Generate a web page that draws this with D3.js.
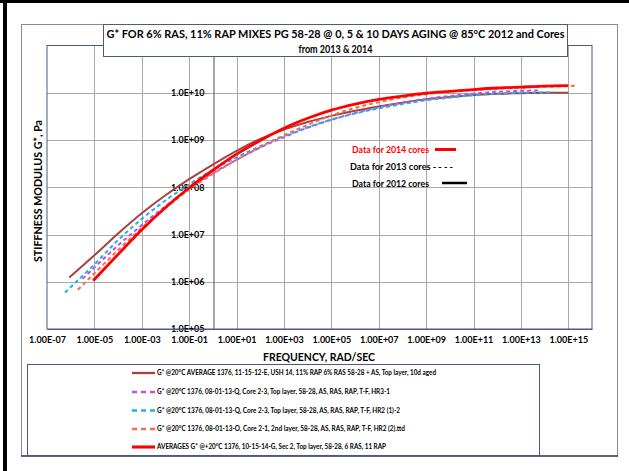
<!DOCTYPE html>
<html>
<head>
<meta charset="utf-8">
<script src="https://cdn.jsdelivr.net/npm/d3@7"></script>
<style>
  body { margin: 0; background: #fff; }
  svg { display: block; font-family: Lato, "Open Sans", "DejaVu Sans", sans-serif; }
</style>
</head>
<body>
<svg id="chart" width="629" height="471"></svg>
<script>
// ---- axis ticks ----
const xTickValues = [1e-7, 1e-5, 1e-3, 1e-1, 1e1, 1e3, 1e5, 1e7, 1e9, 1e11, 1e13, 1e15];
const xTickLabels = ["1.00E-07", "1.00E-05", "1.00E-03", "1.00E-01", "1.00E+01", "1.00E+03",
                     "1.00E+05", "1.00E+07", "1.00E+09", "1.00E+11", "1.00E+13", "1.00E+15"];
const yTickValues = [1e5, 1e6, 1e7, 1e8, 1e9, 1e10];
const yTickLabels = ["1.0E+05", "1.0E+06", "1.0E+07", "1.0E+08", "1.0E+09", "1.0E+10"];

// ---- master curves: frequency (rad/s) and G* (Pa) ----
const avg2012Freq = [8.7e-7, 1e-5, 1e-4, 1e-3, 1e-2, 1e-1, 1, 1e1, 1e2, 1e3, 1e4, 1e5, 1e6, 1e7, 1e8, 1e9, 1e10, 1e11, 1e12, 1e13, 1e14, 1e15];
const avg2012G    = [1.23e6, 3.63e6, 1.05e7, 2.82e7, 6.76e7, 1.48e8, 3.02e8, 5.89e8, 1.05e9, 1.66e9, 2.4e9, 3.24e9, 4.17e9, 5.13e9, 6.17e9, 7.24e9, 8.13e9, 8.91e9, 9.55e9, 9.77e9, 1.0e10, 1.0e10];

const hr31Freq = [3.16e-6, 1e-5, 1e-4, 1e-3, 1e-2, 1e-1, 1, 1e1, 1e2, 1e3, 1e4, 1e5, 1e6, 1e7, 1e8, 1e9, 1e10, 1e11, 1e12, 1e13, 6.3e13];
const hr31G    = [1.15e6, 2.0e6, 5.89e6, 1.58e7, 3.98e7, 9.55e7, 2.0e8, 3.8e8, 6.92e8, 1.15e9, 1.82e9, 2.69e9, 3.72e9, 4.9e9, 6.17e9, 7.41e9, 8.51e9, 9.55e9, 1.05e10, 1.1e10, 1.12e10];

const hr212Freq = [5.75e-7, 1e-5, 1e-4, 1e-3, 1e-2, 1e-1, 1, 1e1, 1e2, 1e3, 1e4, 1e5, 1e6, 1e7, 1e8, 1e9, 1e10, 1e11, 1e12, 1e13, 2.5e14];
const hr212G    = [5.89e5, 2.34e6, 7.59e6, 2.14e7, 5.25e7, 1.15e8, 2.34e8, 4.27e8, 7.41e8, 1.2e9, 1.86e9, 2.69e9, 3.63e9, 4.68e9, 5.75e9, 6.92e9, 7.94e9, 8.91e9, 9.55e9, 1.0e10, 1.02e10];

const hr22Freq = [2.0e-6, 1e-5, 1e-4, 1e-3, 1e-2, 1e-1, 1, 1e1, 1e2, 1e3, 1e4, 1e5, 1e6, 1e7, 1e8, 1e9, 1e10, 1e11, 1e12, 1e13, 1e14, 1e15, 2.0e15];
const hr22G    = [6.76e5, 1.51e6, 4.68e6, 1.38e7, 3.63e7, 8.91e7, 1.91e8, 3.8e8, 7.08e8, 1.26e9, 2.09e9, 3.31e9, 4.79e9, 6.31e9, 7.94e9, 9.33e9, 1.05e10, 1.15e10, 1.23e10, 1.29e10, 1.35e10, 1.38e10, 1.41e10];

const avg2014Freq = [8.9e-6, 1e-4, 1e-3, 1e-2, 1e-1, 1, 1e1, 1e2, 1e3, 1e4, 1e5, 1e6, 1e7, 1e8, 1e9, 1e10, 1e11, 1e12, 1e13, 1e14, 1e15];
const avg2014G    = [1.05e6, 3.8e6, 1.26e7, 3.72e7, 9.77e7, 2.29e8, 5.01e8, 9.77e8, 1.78e9, 2.88e9, 4.27e9, 5.75e9, 7.24e9, 8.51e9, 9.77e9, 1.07e10, 1.17e10, 1.26e10, 1.32e10, 1.38e10, 1.41e10];

const seriesNames = [
  " G* @20\u00B0C AVERAGE 1376, 11-15-12-E, USH 14, 11% RAP 6% RAS 58-28 + AS, Top layer, 10d aged",
  "G* @20\u00B0C 1376, 08-01-13-Q, Core 2-3, Top layer, 58-28, AS, RAS, RAP, T-F, HR3-1",
  "G* @20\u00B0C 1376, 08-01-13-Q, Core 2-3, Top layer, 58-28, AS, RAS, RAP, T-F, HR2 (1)-2",
  "G* @20\u00B0C 1376, 08-01-13-O, Core 2-1, 2nd layer, 58-28, AS, RAS, RAP, T-F, HR2 (2).ttd",
  "AVERAGES G* @+20\u00B0C 1376, 10-15-14-G, Sec 2, Top layer, 58-28, 6 RAS, 11 RAP"
];

const titleLines = ["G* FOR 6% RAS, 11% RAP MIXES PG 58-28 @ 0, 5 & 10 DAYS AGING @ 85\u00B0C 2012 and Cores",
                    "from 2013 & 2014"];

// ---- drawing ----
const svg = d3.select("#chart");
const plot = { left: 47, right: 592, top: 45.5, bottom: 329 };

const x = d3.scaleLog().domain([1e-7, 1e16]).range([plot.left, plot.right]);
const y = d3.scaleLog().domain([1e5, 1e11]).range([plot.bottom, plot.top]);

// outer frame edges
svg.append("rect").attr("x", 0).attr("y", 0).attr("width", 629).attr("height", 3).attr("fill", "#000");
svg.append("rect").attr("x", 3).attr("y", 0).attr("width", 4).attr("height", 471).attr("fill", "#000");

// chart area
svg.append("rect").attr("x", 21.5).attr("y", 24.5).attr("width", 596).attr("height", 431.5)
  .attr("fill", "#fff").attr("stroke", "#8c8c8c").attr("stroke-width", 1);
svg.append("line").attr("x1", 21).attr("x2", 618).attr("y1", 456).attr("y2", 456)
  .attr("stroke", "#3b4256").attr("stroke-width", 1.5);

// gridlines
const grid = svg.append("g").attr("stroke", "#a8a8a8").attr("stroke-width", 1);
grid.selectAll("line.v").data(xTickValues.slice(1)).join("line")
  .attr("x1", d => Math.round(x(d)) + 0.5).attr("x2", d => Math.round(x(d)) + 0.5)
  .attr("y1", plot.top).attr("y2", plot.bottom);
grid.selectAll("line.h").data(yTickValues.slice(1)).join("line")
  .attr("x1", plot.left).attr("x2", plot.right)
  .attr("y1", d => Math.round(y(d)) + 0.5).attr("y2", d => Math.round(y(d)) + 0.5);

// plot border
svg.append("rect").attr("x", plot.left).attr("y", plot.top)
  .attr("width", plot.right - plot.left).attr("height", plot.bottom - plot.top)
  .attr("fill", "none").attr("stroke", "#4b5a82").attr("stroke-width", 1);

// y axis crossing at 1 rad/s
const yAxis = d3.axisLeft(y).tickValues(yTickValues)
  .tickFormat((d, i) => yTickLabels[i]).tickSize(0).tickPadding(9);
const gy = svg.append("g").attr("transform", `translate(${Math.round(x(1)) + 0.5},0)`).call(yAxis);
gy.select(".domain").attr("stroke", "#6b6b6b").attr("stroke-width", 1.2);
gy.selectAll("text").attr("font-size", 9).attr("font-weight", "bold").attr("fill", "#000")
  .attr("font-family", "Lato, sans-serif");

// x axis
const xAxis = d3.axisBottom(x).tickValues(xTickValues)
  .tickFormat((d, i) => xTickLabels[i]).tickSize(0).tickPadding(8);
const gx = svg.append("g").attr("transform", `translate(0,${plot.bottom})`).call(xAxis);
gx.select(".domain").attr("stroke", "#4b5a82");
gx.selectAll("text").attr("font-size", 9).attr("font-weight", "bold").attr("fill", "#000")
  .attr("font-family", "Lato, sans-serif");

// series
const series = [
  { f: avg2012Freq, g: avg2012G, color: "#a8423f", width: 2, dash: null },
  { f: hr31Freq,    g: hr31G,    color: "#c052e0", width: 2, dash: "4,3" },
  { f: hr212Freq,   g: hr212G,   color: "#1fb0ef", width: 2, dash: "4,3" },
  { f: hr22Freq,    g: hr22G,    color: "#f0714a", width: 2, dash: "4,3" },
  { f: avg2014Freq, g: avg2014G, color: "#ff0000", width: 2.8, dash: null }
];
const line = d3.line().x(d => x(d[0])).y(d => y(d[1])).curve(d3.curveMonotoneX);
svg.append("g").selectAll("path").data(series).join("path")
  .attr("d", s => line(s.f.map((v, i) => [v, s.g[i]])))
  .attr("fill", "none").attr("stroke", s => s.color).attr("stroke-width", s => s.width)
  .attr("stroke-dasharray", s => s.dash);

// in-plot notes
const notes = svg.append("g").attr("font-weight", "bold").attr("font-size", 8.5);
notes.append("text").attr("x", 352).attr("y", 153).attr("fill", "#ff0000")
  .attr("textLength", 77).attr("lengthAdjust", "spacingAndGlyphs").text("Data for 2014 cores");
notes.append("line").attr("x1", 435).attr("x2", 456).attr("y1", 149.5).attr("y2", 149.5)
  .attr("stroke", "#ff0000").attr("stroke-width", 3);
notes.append("text").attr("x", 350).attr("y", 170).attr("fill", "#000")
  .attr("textLength", 103).attr("lengthAdjust", "spacingAndGlyphs").text("Data for 2013 cores - - - -");
notes.append("text").attr("x", 352).attr("y", 187).attr("fill", "#000")
  .attr("textLength", 77).attr("lengthAdjust", "spacingAndGlyphs").text("Data for 2012 cores");
notes.append("line").attr("x1", 442).attr("x2", 467).attr("y1", 183).attr("y2", 183)
  .attr("stroke", "#000").attr("stroke-width", 2.5);

// axis titles
svg.append("text").attr("x", 319).attr("y", 361).attr("text-anchor", "middle")
  .attr("font-size", 11.5).attr("font-weight", "bold")
  .attr("textLength", 112).attr("lengthAdjust", "spacingAndGlyphs").text("FREQUENCY, RAD/SEC");
svg.append("text").attr("transform", "translate(42,191) rotate(-90)").attr("text-anchor", "middle")
  .attr("font-size", 11).attr("font-weight", "bold")
  .attr("textLength", 142).attr("lengthAdjust", "spacingAndGlyphs").text("STIFFNESS MODULUS G*, Pa");

// title box
svg.append("rect").attr("x", 103.5).attr("y", 24.5).attr("width", 464).attr("height", 32)
  .attr("fill", "#fff").attr("stroke", "#4b5a82").attr("stroke-width", 1);
svg.append("text").attr("x", 335.5).attr("y", 38).attr("text-anchor", "middle")
  .attr("font-size", 11).attr("font-weight", "bold")
  .attr("textLength", 458).attr("lengthAdjust", "spacingAndGlyphs").text(titleLines[0]);
svg.append("text").attr("x", 335.5).attr("y", 52.5).attr("text-anchor", "middle")
  .attr("font-size", 11).attr("font-weight", "bold")
  .attr("textLength", 74).attr("lengthAdjust", "spacingAndGlyphs").text(titleLines[1]);

// legend
svg.append("rect").attr("x", 27.5).attr("y", 364.5).attr("width", 512).attr("height", 91)
  .attr("fill", "#fff").attr("stroke", "#4b5a82").attr("stroke-width", 1);
const legendY = [373, 392, 410.5, 429, 447];
const legendLen = [279, 233, 243, 248, 229];
const lg = svg.append("g").selectAll("g").data(series).join("g")
  .attr("transform", (d, i) => `translate(0,${legendY[i]})`);
lg.append("line").attr("x1", 132).attr("x2", s => s.dash ? 157 : 155).attr("y1", 0).attr("y2", 0)
  .attr("stroke", s => s.color).attr("stroke-width", s => s.width + 0.3)
  .attr("stroke-dasharray", s => s.dash ? "5,4" : null);
lg.append("text").attr("x", 157).attr("y", 2.3).attr("font-size", 6.5).attr("font-weight", "bold")
  .attr("textLength", (d, i) => legendLen[i]).attr("lengthAdjust", "spacingAndGlyphs")
  .text((d, i) => seriesNames[i]);
</script>
</body>
</html>
